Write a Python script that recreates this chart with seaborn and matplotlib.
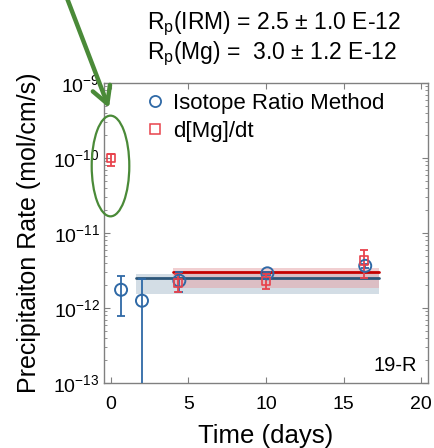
import numpy as np
import pandas as pd
import matplotlib
matplotlib.use("Agg")
import matplotlib.pyplot as plt
from matplotlib.patches import Ellipse, FancyArrowPatch
from matplotlib.lines import Line2D
import seaborn as sns

# Isotope ratio method (IRM) precipitation rates
irm_days = [0.65, 2.0, 4.41, 10.09, 16.4]
irm_rate = [1.75e-12, 1.25e-12, 2.31e-12, 2.9e-12, 3.65e-12]
irm_low = [7.75e-13, 1e-14, 1.65e-12, 2.75e-12, 3.45e-12]
irm_high = [2.70e-12, 2.44e-12, 2.99e-12, 3.05e-12, 3.85e-12]

# d[Mg]/dt precipitation rates
mg_days = [0.0, 4.34, 10.0, 16.33]
mg_rate = [9.9e-11, 2.15e-12, 2.31e-12, 4.28e-12]
mg_low = [7.9e-11, 1.62e-12, 1.79e-12, 2.51e-12]
mg_high = [1.13e-10, 2.84e-12, 2.84e-12, 5.98e-12]

# Mean rates and their uncertainty bands
rp_irm, rp_irm_err = 2.5e-12, 1.0e-12
rp_mg, rp_mg_err = 3.0e-12, 1.2e-12
irm_span = [1.61, 17.3]
mg_span = [4.02, 17.3]
irm_band = [1.54e-12, 2.84e-12]
mg_band = [1.85e-12, 3.38e-12]

x_ticks = [0, 5, 10, 15, 20]
y_ticks = [1e-13, 1e-12, 1e-11, 1e-10, 1e-9]
sample_label = "19-R"

sns.set_style("ticks")
plt.rcParams["font.family"] = ["Liberation Sans", "DejaVu Sans"]
plt.rcParams["mathtext.fontset"] = "custom"
plt.rcParams["mathtext.rm"] = "Liberation Sans"
for key in ("text.color", "axes.labelcolor", "xtick.labelcolor", "ytick.labelcolor"):
    plt.rcParams[key] = "black"

BLUE = "#2f69a6"
BLUE_LINE = "#2c5679"
RED = "#e8424c"
RED_LINE = "#c40000"
GREEN = "#4a8a38"
GRAY = "#808080"

fig = plt.figure(figsize=(4.34, 4.48), dpi=100)
ax = fig.add_axes([104 / 434, 1 - 383 / 448, 324 / 434, 300 / 448])

# uncertainty bands
ax.fill_between(irm_span, irm_band[0], irm_band[1], color="#a9bccd", alpha=0.5, lw=0, zorder=1)
ax.fill_between(mg_span, mg_band[0], mg_band[1], color="#e5a0a4", alpha=0.5, lw=0, zorder=1.1)

# mean rate lines
lines = pd.DataFrame({
    "day": irm_span + mg_span,
    "rate": [rp_irm, rp_irm, rp_mg, rp_mg],
    "method": ["IRM", "IRM", "Mg", "Mg"],
})
sns.lineplot(data=lines, x="day", y="rate", hue="method",
             palette={"IRM": BLUE_LINE, "Mg": RED_LINE}, lw=2,
             legend=False, ax=ax, zorder=2)

# error bars
irm_rate_a = np.array(irm_rate)
mg_rate_a = np.array(mg_rate)
ax.errorbar(irm_days, irm_rate, yerr=[irm_rate_a - np.array(irm_low), np.array(irm_high) - irm_rate_a],
            fmt="none", ecolor=BLUE, elinewidth=1.3, capsize=3, capthick=1.3, zorder=3)
ax.errorbar(mg_days, mg_rate, yerr=[mg_rate_a - np.array(mg_low), np.array(mg_high) - mg_rate_a],
            fmt="none", ecolor=RED, elinewidth=1.3, capsize=3, capthick=1.3, zorder=3)

# markers
irm_df = pd.DataFrame({"day": irm_days, "rate": irm_rate})
mg_df = pd.DataFrame({"day": mg_days, "rate": mg_rate})
sns.scatterplot(data=irm_df, x="day", y="rate", marker="o", s=75,
                fc="none", ec=BLUE, linewidth=1.4, ax=ax, zorder=4)
sns.scatterplot(data=mg_df, x="day", y="rate", marker="s", s=36,
                fc="none", ec=RED, linewidth=1.2, ax=ax, zorder=4)

ax.set_yscale("log")
ax.set_xlim(-0.45, 20.45)
ax.set_ylim(y_ticks[0], y_ticks[-1])
ax.set_xticks(x_ticks)
ax.set_yticks(y_ticks)
ax.set_xlabel("Time (days)", fontsize=18.5, labelpad=8)
ax.set_ylabel("Precipitaiton Rate (mol/cm/s)", fontsize=18, labelpad=9)

for s in ax.spines.values():
    s.set_color(GRAY)
    s.set_linewidth(1.0)
ax.tick_params(which="both", direction="in", top=True, right=True, color=GRAY)
ax.tick_params(which="major", length=4, width=0.8, labelsize=14, pad=3)
ax.tick_params(axis="x", which="major", pad=9)
ax.tick_params(which="minor", length=2, width=0.6)

handles = [
    Line2D([], [], ls="none", marker="o", ms=8, mfc="none", mec=BLUE, mew=1.3),
    Line2D([], [], ls="none", marker="s", ms=6.5, mfc="none", mec=RED, mew=1.1),
]
fig.legend(handles, ["Isotope Ratio Method", "d[Mg]/dt"], loc="upper left",
           bbox_to_anchor=(146 / 434, 1 - 93 / 448), frameon=False, fontsize=16,
           handlelength=0.8, handletextpad=0.4, labelspacing=0.3,
           borderpad=0, borderaxespad=0)

ax.text(0.965, 0.04, sample_label, transform=ax.transAxes, ha="right", va="baseline",
        fontsize=14.5)

fig.text(147 / 434, 1 - 29.5 / 448,
         f"R$_\\mathregular{{p}}$(IRM) = {rp_irm / 1e-12:.1f} ± {rp_irm_err / 1e-12:.1f} E-12",
         fontsize=16.5, va="baseline", ha="left")
fig.text(147 / 434, 1 - 59.5 / 448,
         f"R$_\\mathregular{{p}}$(Mg) =  {rp_mg / 1e-12:.1f} ± {rp_mg_err / 1e-12:.1f} E-12",
         fontsize=16.5, va="baseline", ha="left")

# highlight of the early d[Mg]/dt point
ell = Ellipse((110.5 / 434, 1 - 166 / 448), 37.6 / 434, 100.7 / 448,
              transform=fig.transFigure, fill=False, ec=GREEN, lw=1.6, clip_on=False, zorder=5)
fig.add_artist(ell)
fig.add_artist(FancyArrowPatch(
    (66 / 434, 1.01), (109 / 434, 1 - 108 / 448), transform=fig.transFigure,
    arrowstyle="->,head_length=0.6,head_width=0.33", mutation_scale=20,
    color=GREEN, lw=3.2, shrinkA=0, shrinkB=0, zorder=6))

fig.savefig("out.png", dpi=100)
